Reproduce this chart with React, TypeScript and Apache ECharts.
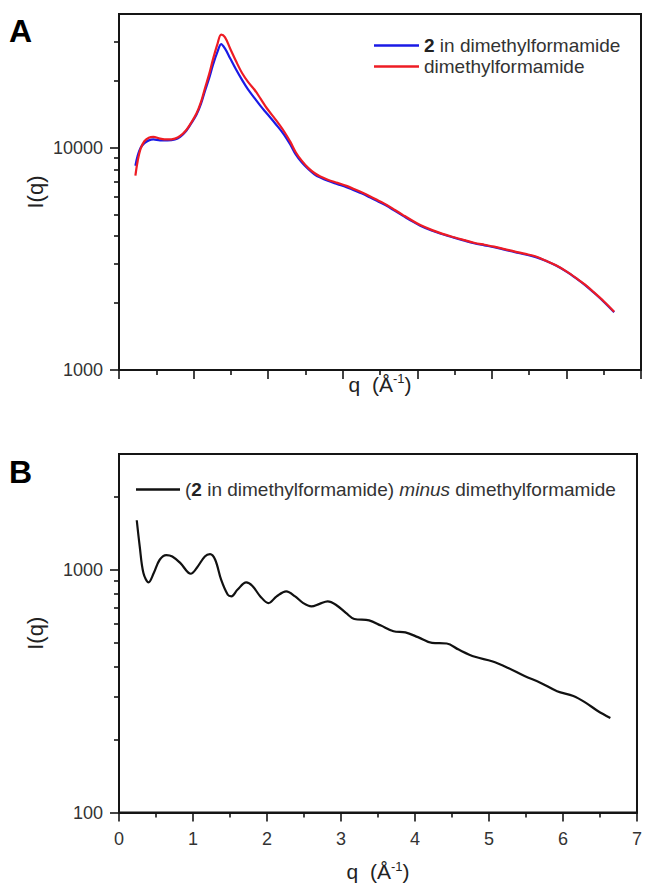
import { useEffect, useRef } from 'react';
import * as echarts from 'echarts';

// Panel A: I(q) of "2 in dimethylformamide" and "dimethylformamide"
const qA = [0.22, 0.25, 0.29, 0.34, 0.40, 0.46, 0.55, 0.65, 0.75, 0.82, 0.90, 0.97, 1.04, 1.10, 1.15, 1.21, 1.26, 1.32, 1.37, 1.42, 1.49, 1.57, 1.65, 1.73, 1.82, 1.90, 1.98, 2.10, 2.21, 2.30, 2.37, 2.45, 2.54, 2.62, 2.70, 2.80, 2.93, 3.05, 3.15, 3.26, 3.37, 3.48, 3.59, 3.70, 3.81, 3.92, 4.04, 4.20, 4.34, 4.48, 4.62, 4.76, 4.90, 5.03, 5.17, 5.31, 5.45, 5.59, 5.72, 5.86, 6.00, 6.14, 6.25, 6.36, 6.50, 6.64];
const blueA = [8300, 9200, 10000, 10500, 10800, 10900, 10800, 10800, 10900, 11200, 11900, 12900, 14100, 15800, 17900, 20600, 23600, 27000, 29300, 28000, 25300, 22500, 20200, 18300, 16700, 15400, 14300, 12800, 11500, 10300, 9330, 8600, 8000, 7600, 7340, 7100, 6860, 6650, 6440, 6220, 5970, 5720, 5480, 5200, 4940, 4690, 4460, 4230, 4080, 3950, 3830, 3720, 3640, 3570, 3480, 3390, 3310, 3220, 3100, 2950, 2770, 2570, 2410, 2240, 2030, 1820];
const redA = [7500, 8700, 9900, 10700, 11100, 11200, 11000, 10900, 11000, 11300, 12000, 13000, 14300, 16100, 18400, 21500, 25000, 29300, 32300, 31500, 28000, 24500, 21700, 19800, 18200, 16600, 15100, 13400, 11900, 10600, 9550, 8750, 8100, 7700, 7420, 7180, 6950, 6740, 6520, 6290, 6040, 5780, 5530, 5250, 4980, 4730, 4490, 4260, 4100, 3970, 3850, 3740, 3660, 3590, 3500, 3410, 3330, 3240, 3110, 2960, 2780, 2580, 2420, 2250, 2040, 1830];

// Panel B: difference curve
const qB = [0.24, 0.28, 0.33, 0.40, 0.47, 0.55, 0.64, 0.72, 0.83, 0.97, 1.05, 1.16, 1.23, 1.30, 1.38, 1.47, 1.52, 1.60, 1.72, 1.80, 1.91, 2.02, 2.13, 2.26, 2.38, 2.49, 2.60, 2.71, 2.82, 2.93, 3.07, 3.18, 3.38, 3.54, 3.71, 3.87, 4.04, 4.23, 4.43, 4.59, 4.81, 5.04, 5.26, 5.48, 5.70, 5.92, 6.14, 6.31, 6.47, 6.64];
const diffB = [1600, 1250, 970, 887, 970, 1100, 1150, 1135, 1065, 963, 1017, 1135, 1160, 1100, 910, 789, 777, 827, 887, 860, 777, 729, 777, 815, 777, 729, 707, 724, 741, 718, 663, 627, 619, 589, 558, 552, 528, 500, 497, 469, 438, 420, 394, 365, 342, 316, 302, 283, 262, 245];

// Axis ticks
const yRangeA = [1000, 40000];
const yMajorA = [1000, 10000];
const yMinorA = [2000, 3000, 4000, 5000, 6000, 7000, 8000, 9000, 20000, 30000];
const yRangeB = [100, 3000];
const yMajorB = [100, 1000];
const yMinorB = [200, 300, 400, 500, 600, 700, 800, 900, 2000];

const nameA1 = '2 in dimethylformamide';
const nameA2 = 'dimethylformamide';
const nameB = '(2 in dimethylformamide) minus dimethylformamide';

const FONT = '"Liberation Sans", Arial, Helvetica, sans-serif';
const INK = '#151515';
const LABEL = '#333333';

const zip = (xs: number[], ys: number[]) => xs.map((x, i) => [x, ys[i]]);
const L = (v: number) => Math.log10(v);

const xName = '{a|q  (Å}{s|-1}{a|)}';
const xNameStyle = {
  fontFamily: FONT,
  fontSize: 21,
  color: '#222',
  rich: {
    a: { fontFamily: FONT, fontSize: 21, color: '#222', lineHeight: 24 },
    s: { fontFamily: FONT, fontSize: 13, color: '#222', lineHeight: 12, verticalAlign: 'top' },
  },
};

function makeX(gridIndex: number, showLabels: boolean, nameGap: number) {
  return {
    type: 'value',
    gridIndex,
    min: 0,
    max: 7,
    interval: 1,
    axisLine: { show: true, onZero: false, lineStyle: { color: INK, width: 2 } },
    axisTick: { show: true, inside: false, length: 9, lineStyle: { color: INK, width: 1.6 } },
    minorTick: { show: true, splitNumber: 2, length: 5, lineStyle: { color: INK, width: 1.6 } },
    axisLabel: { show: showLabels, fontSize: 18, fontFamily: FONT, color: LABEL, margin: 17 },
    splitLine: { show: false },
    minorSplitLine: { show: false },
    name: xName,
    nameLocation: 'middle',
    nameGap,
    nameTextStyle: xNameStyle,
  };
}

function makeY(gridIndex: number, range: number[], major: number[], minor: number[]) {
  return [
    {
      type: 'log',
      logBase: 10,
      gridIndex,
      position: 'left',
      min: range[0],
      max: range[1],
      axisLine: { show: true, onZero: false, lineStyle: { color: INK, width: 2 } },
      axisTick: { show: false },
      minorTick: { show: false },
      axisLabel: { show: false },
      splitLine: { show: false },
      name: 'I(q)',
      nameLocation: 'middle',
      nameGap: 73,
      nameTextStyle: { fontFamily: FONT, fontSize: 22, color: '#222' },
    },
    {
      type: 'value',
      gridIndex,
      position: 'left',
      min: L(range[0]),
      max: L(range[1]),
      axisLine: { show: false },
      axisTick: { show: true, inside: false, length: 9, customValues: major.map(L), lineStyle: { color: INK, width: 1.6 } },
      axisLabel: {
        show: true,
        customValues: major.map(L),
        formatter: (v: number) => String(Math.round(Math.pow(10, v))),
        fontSize: 18,
        fontFamily: FONT,
        color: LABEL,
        margin: 16,
      },
      splitLine: { show: false },
    },
    {
      type: 'value',
      gridIndex,
      position: 'left',
      min: L(range[0]),
      max: L(range[1]),
      axisLine: { show: false },
      axisTick: { show: true, inside: false, length: 5, customValues: minor.map(L), lineStyle: { color: INK, width: 1.6 } },
      axisLabel: { show: false },
      splitLine: { show: false },
    },
  ];
}

export default function App() {
  const ref = useRef<HTMLDivElement>(null);
  useEffect(() => {
    document.body.style.margin = '0';
    const chart = echarts.init(ref.current!, null, { renderer: 'svg' });
    const legendText = {
      fontFamily: FONT,
      fontSize: 19,
      color: LABEL,
      lineHeight: 21,
      rich: {
        b: { fontFamily: FONT, fontSize: 19, fontWeight: 'bold', color: '#222', lineHeight: 21 },
        i: { fontFamily: FONT, fontSize: 19, fontStyle: 'italic', color: LABEL, lineHeight: 21 },
        n: { fontFamily: FONT, fontSize: 19, color: LABEL, lineHeight: 21 },
      },
    };
    const fmt = (name: string) =>
      name
        .replace('2 in', '{b|2}{n| in}')
        .replace(' minus ', '{n| }{i|minus}{n| }');
    const option = {
      animation: false,
      backgroundColor: '#ffffff',
      grid: [
        { left: 119, top: 14, width: 522, height: 356, show: true, borderColor: INK, borderWidth: 2, backgroundColor: 'transparent' },
        { left: 119, top: 454, width: 522, height: 359, show: true, borderColor: INK, borderWidth: 2, backgroundColor: 'transparent' },
      ],
      xAxis: [makeX(0, false, 2), makeX(1, true, 47)],
      yAxis: [...makeY(0, yRangeA, yMajorA, yMinorA), ...makeY(1, yRangeB, yMajorB, yMinorB)],
      legend: [
        {
          data: [nameA1, nameA2],
          orient: 'vertical',
          left: 369,
          top: 30,
          icon: 'rect',
          itemWidth: 45,
          itemHeight: 2.5,
          itemGap: 0,
          formatter: fmt,
          textStyle: legendText,
        },
        {
          data: [nameB],
          orient: 'vertical',
          left: 131,
          top: 474,
          icon: 'rect',
          itemWidth: 44,
          itemHeight: 2.5,
          itemGap: 0,
          formatter: fmt,
          textStyle: legendText,
        },
      ],
      graphic: [
        { type: 'text', left: 9, top: 15, style: { text: 'A', font: `bold 32px ${FONT}`, fill: '#000' } },
        { type: 'text', left: 9, top: 456, style: { text: 'B', font: `bold 32px ${FONT}`, fill: '#000' } },
      ],
      series: [
        {
          name: nameA1,
          type: 'line',
          xAxisIndex: 0,
          yAxisIndex: 0,
          data: zip(qA, blueA),
          symbol: 'none',
          smooth: 0.35,
          lineStyle: { color: '#1a1ae6', width: 2.2 },
          itemStyle: { color: '#1a1ae6' },
        },
        {
          name: nameA2,
          type: 'line',
          xAxisIndex: 0,
          yAxisIndex: 0,
          data: zip(qA, redA),
          symbol: 'none',
          smooth: 0.35,
          lineStyle: { color: '#ee1c24', width: 2.2 },
          itemStyle: { color: '#ee1c24' },
        },
        {
          name: nameB,
          type: 'line',
          xAxisIndex: 1,
          yAxisIndex: 3,
          data: zip(qB, diffB),
          symbol: 'none',
          smooth: 0.35,
          lineStyle: { color: '#111111', width: 2.2 },
          itemStyle: { color: '#111111' },
        },
      ],
    };
    chart.setOption(option as any);
    return () => chart.dispose();
  }, []);
  return <div ref={ref} style={{ width: 645, height: 883 }} />;
}
